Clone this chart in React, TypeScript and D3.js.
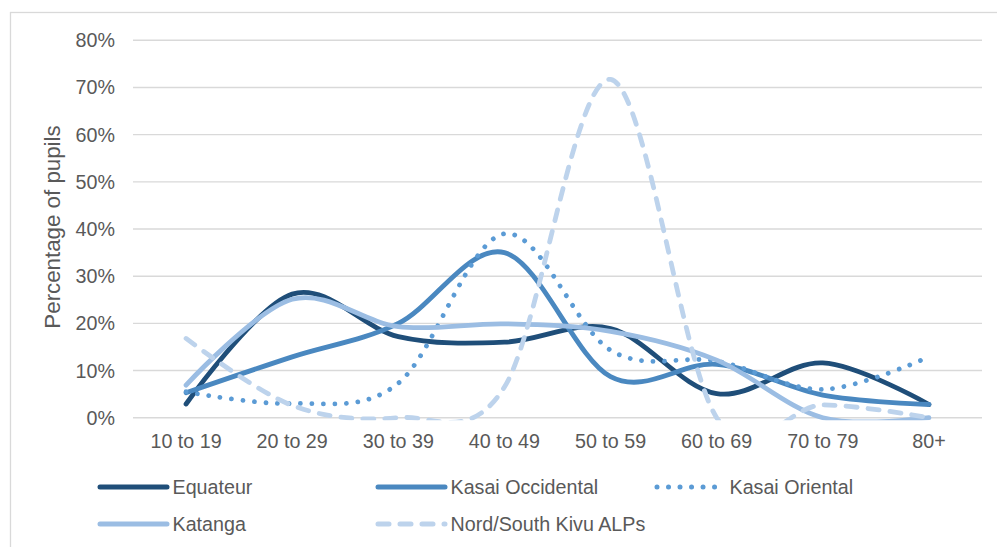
import React from "react";
import * as d3 from "d3";

const categories = ["10 to 19", "20 to 29", "30 to 39", "40 to 49", "50 to 59", "60 to 69", "70 to 79", "80+"];
const equateur = [2.9, 26.2, 17.2, 16.0, 18.9, 5.1, 11.6, 2.8];
const kasaiOccidental = [5.3, 12.9, 20.0, 35.0, 8.7, 11.3, 4.8, 2.8];
const kasaiOriental = [5.5, 3.0, 7.3, 39.0, 14.3, 12.0, 6.0, 12.9];
const katanga = [6.9, 25.1, 19.3, 19.9, 18.3, 12.2, 0, 0];
const nordSouthKivu = [16.8, 2.6, 0, 6.5, 71.7, 0, 2.7, 0];
const seriesNames = ["Equateur", "Kasai Occidental", "Kasai Oriental", "Katanga", "Nord/South Kivu ALPs"];
const yTicks = [0, 10, 20, 30, 40, 50, 60, 70, 80];

const W = 997;
const H = 547;
const plot = { left: 133, right: 982, top: 40.3, bottom: 417.7 };
const FONT = "'Liberation Sans', Arial, sans-serif";
const TEXT = "#595959";

const styles = [
  { color: "#1f4e79", dash: undefined as string | undefined },
  { color: "#4a88c0", dash: undefined },
  { color: "#5b9bd5", dash: "0.01 11.5" },
  { color: "#9bbde3", dash: undefined },
  { color: "#bdd3ec", dash: "11 11" },
];

export default function App() {
  const x = d3.scalePoint<string>().domain(categories).range([plot.left, plot.right]).padding(0.5);
  const y = d3.scaleLinear().domain([0, 80]).range([plot.bottom, plot.top]);
  const line = d3
    .line<number>()
    .x((_, i) => x(categories[i]) as number)
    .y((d) => y(d))
    .curve(d3.curveCardinal.tension(0));

  const data = [equateur, kasaiOccidental, kasaiOriental, katanga, nordSouthKivu];
  const legendPos = [
    { x: 100, y: 487 },
    { x: 378, y: 487 },
    { x: 657, y: 487 },
    { x: 100, y: 524 },
    { x: 378, y: 524 },
  ];

  return (
    <svg
      width={W}
      height={H}
      style={{ position: "absolute", left: 0, top: 0, background: "#fff" }}
      fontFamily={FONT}
    >
      <defs>
        <clipPath id="plotclip">
          <rect x={plot.left} y={0} width={plot.right - plot.left} height={plot.bottom + 2.5} />
        </clipPath>
      </defs>
      <rect x={10.5} y={12.5} width={1000} height={600} fill="#fff" stroke="#d9d9d9" strokeWidth={1.3} />
      {yTicks.map((t) => (
        <g key={t}>
          <line x1={plot.left} x2={plot.right} y1={y(t)} y2={y(t)} stroke="#d9d9d9" strokeWidth={1.4} />
          <text x={115} y={y(t) + 7} textAnchor="end" fontSize={19.7} fill={TEXT}>
            {t + "%"}
          </text>
        </g>
      ))}
      {categories.map((c) => (
        <text key={c} x={x(c) as number} y={448} textAnchor="middle" fontSize={19.7} fill={TEXT}>
          {c}
        </text>
      ))}
      <text
        transform={`translate(60,227) rotate(-90)`}
        textAnchor="middle"
        fontSize={22.3}
        fill={TEXT}
      >
        Percentage of pupils
      </text>
      <g clipPath="url(#plotclip)">
        {data.map((d, i) => (
          <path
            key={i}
            d={line(d) as string}
            fill="none"
            stroke={styles[i].color}
            strokeWidth={4.8}
            strokeLinecap="round"
            strokeLinejoin="round"
            strokeDasharray={styles[i].dash}
          />
        ))}
      </g>
      {seriesNames.map((n, i) => {
        const p = legendPos[i];
        return (
          <g key={n}>
            <line
              x1={p.x}
              x2={p.x + 67}
              y1={p.y}
              y2={p.y}
              stroke={styles[i].color}
              strokeWidth={5}
              strokeLinecap="round"
              strokeDasharray={styles[i].dash}
            />
            <text x={p.x + 72.5} y={p.y + 7.3} fontSize={19.7} fill={TEXT}>
              {n}
            </text>
          </g>
        );
      })}
    </svg>
  );
}
